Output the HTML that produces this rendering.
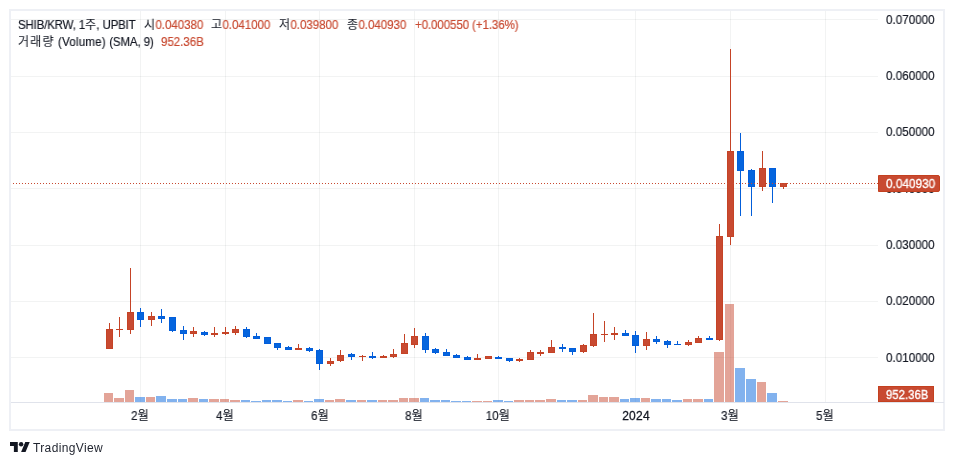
<!DOCTYPE html>
<html lang="ko">
<head>
<meta charset="utf-8">
<title>SHIB/KRW</title>
<style>
html,body{margin:0;padding:0;background:#fff;}
body{width:954px;height:465px;position:relative;overflow:hidden;
  -webkit-font-smoothing:antialiased;
  font-family:"Liberation Sans","Noto Sans CJK KR",sans-serif;color:#131722;}
#frame{position:absolute;left:9px;top:9px;width:932px;height:418px;border:2px solid #eef0f5;box-sizing:content-box;}
#chart{position:absolute;left:0;top:0;width:954px;height:465px;}
#axisline{position:absolute;left:11px;top:402px;width:933px;height:1px;background:#e0e3eb;}
.t{position:absolute;white-space:nowrap;font-size:12px;line-height:14px;transform:scaleX(0.958);transform-origin:0 0;}
.k{font-size:12.5px;line-height:0;font-weight:350;letter-spacing:0.4px;}
.r{color:#c84a31;}
.t,.pl,.tl,.tt,#brand{will-change:transform;}
.t,.pl,.tl{-webkit-text-stroke:0.18px currentColor;}
.pl{position:absolute;left:886.3px;font-size:12px;letter-spacing:0.1px;line-height:14px;white-space:nowrap;transform:scaleX(0.958);transform-origin:0 0;}
.tl{position:absolute;top:409px;width:60px;margin-left:-30px;text-align:center;font-size:12px;line-height:14px;white-space:nowrap;transform:scaleX(0.958);}
#dots{position:absolute;left:13px;top:183px;width:865px;height:1px;
  background-image:repeating-linear-gradient(to right,#c84a31 0,#c84a31 1px,transparent 1px,transparent 3px);}
.tag{position:absolute;background:#c84a31;color:#fff;font-size:12px;line-height:17px;white-space:nowrap;box-sizing:border-box;border:1px solid #c4401f;}
.tt{position:absolute;top:0;left:7.4px;letter-spacing:0.1px;transform:scaleX(0.97);transform-origin:0 0;-webkit-text-stroke:0.33px #fff;}
#logo{position:absolute;left:10px;top:442px;}
#brand{position:absolute;left:33.4px;top:439.6px;font-size:12px;letter-spacing:0.37px;line-height:16px;color:#1e222d;}
</style>
</head>
<body>
<div id="frame"></div>
<svg id="chart" width="954" height="465" viewBox="0 0 954 465" shape-rendering="crispEdges">
<rect x="140" y="11" width="1" height="391" fill="rgba(42,46,57,0.06)"/>
<rect x="225" y="11" width="1" height="391" fill="rgba(42,46,57,0.06)"/>
<rect x="319" y="11" width="1" height="391" fill="rgba(42,46,57,0.06)"/>
<rect x="414" y="11" width="1" height="391" fill="rgba(42,46,57,0.06)"/>
<rect x="498" y="11" width="1" height="391" fill="rgba(42,46,57,0.06)"/>
<rect x="635" y="11" width="1" height="391" fill="rgba(42,46,57,0.06)"/>
<rect x="730" y="11" width="1" height="391" fill="rgba(42,46,57,0.06)"/>
<rect x="825" y="11" width="1" height="391" fill="rgba(42,46,57,0.06)"/>
<rect x="11" y="19" width="867" height="1" fill="rgba(42,46,57,0.06)"/>
<rect x="11" y="76" width="867" height="1" fill="rgba(42,46,57,0.06)"/>
<rect x="11" y="132" width="867" height="1" fill="rgba(42,46,57,0.06)"/>
<rect x="11" y="188" width="867" height="1" fill="rgba(42,46,57,0.06)"/>
<rect x="11" y="245" width="867" height="1" fill="rgba(42,46,57,0.06)"/>
<rect x="11" y="301" width="867" height="1" fill="rgba(42,46,57,0.06)"/>
<rect x="11" y="357" width="867" height="1" fill="rgba(42,46,57,0.06)"/>
<rect x="104" y="393" width="9" height="9" fill="rgba(200,74,49,0.5)"/>
<rect x="114" y="398" width="10" height="4" fill="rgba(200,74,49,0.5)"/>
<rect x="125" y="390" width="9" height="12" fill="rgba(200,74,49,0.5)"/>
<rect x="135" y="397" width="10" height="5" fill="rgba(5,101,222,0.5)"/>
<rect x="146" y="397" width="9" height="5" fill="rgba(200,74,49,0.5)"/>
<rect x="156" y="396" width="10" height="6" fill="rgba(5,101,222,0.5)"/>
<rect x="167" y="399" width="10" height="3" fill="rgba(5,101,222,0.5)"/>
<rect x="178" y="399" width="9" height="3" fill="rgba(5,101,222,0.5)"/>
<rect x="188" y="398" width="10" height="4" fill="rgba(200,74,49,0.5)"/>
<rect x="199" y="399" width="9" height="3" fill="rgba(5,101,222,0.5)"/>
<rect x="209" y="399" width="10" height="3" fill="rgba(200,74,49,0.5)"/>
<rect x="220" y="399" width="9" height="3" fill="rgba(200,74,49,0.5)"/>
<rect x="230" y="400" width="10" height="2" fill="rgba(200,74,49,0.5)"/>
<rect x="241" y="400" width="9" height="2" fill="rgba(5,101,222,0.5)"/>
<rect x="251" y="401" width="10" height="1" fill="rgba(5,101,222,0.5)"/>
<rect x="262" y="400" width="9" height="2" fill="rgba(5,101,222,0.5)"/>
<rect x="272" y="400" width="10" height="2" fill="rgba(5,101,222,0.5)"/>
<rect x="283" y="401" width="9" height="1" fill="rgba(5,101,222,0.5)"/>
<rect x="293" y="400" width="10" height="2" fill="rgba(200,74,49,0.5)"/>
<rect x="304" y="401" width="9" height="1" fill="rgba(5,101,222,0.5)"/>
<rect x="314" y="399" width="10" height="3" fill="rgba(5,101,222,0.5)"/>
<rect x="325" y="400" width="9" height="2" fill="rgba(200,74,49,0.5)"/>
<rect x="335" y="399" width="10" height="3" fill="rgba(200,74,49,0.5)"/>
<rect x="346" y="400" width="10" height="2" fill="rgba(5,101,222,0.5)"/>
<rect x="357" y="400" width="9" height="2" fill="rgba(200,74,49,0.5)"/>
<rect x="367" y="400" width="10" height="2" fill="rgba(5,101,222,0.5)"/>
<rect x="378" y="400" width="9" height="2" fill="rgba(200,74,49,0.5)"/>
<rect x="388" y="400" width="10" height="2" fill="rgba(200,74,49,0.5)"/>
<rect x="399" y="398" width="9" height="4" fill="rgba(200,74,49,0.5)"/>
<rect x="409" y="398" width="10" height="4" fill="rgba(200,74,49,0.5)"/>
<rect x="420" y="398" width="9" height="4" fill="rgba(5,101,222,0.5)"/>
<rect x="430" y="400" width="10" height="2" fill="rgba(5,101,222,0.5)"/>
<rect x="441" y="400" width="9" height="2" fill="rgba(5,101,222,0.5)"/>
<rect x="451" y="401" width="10" height="1" fill="rgba(5,101,222,0.5)"/>
<rect x="462" y="401" width="9" height="1" fill="rgba(5,101,222,0.5)"/>
<rect x="472" y="401" width="10" height="1" fill="rgba(200,74,49,0.5)"/>
<rect x="483" y="401" width="9" height="1" fill="rgba(200,74,49,0.5)"/>
<rect x="493" y="400" width="10" height="2" fill="rgba(5,101,222,0.5)"/>
<rect x="504" y="401" width="9" height="1" fill="rgba(5,101,222,0.5)"/>
<rect x="514" y="400" width="10" height="2" fill="rgba(200,74,49,0.5)"/>
<rect x="525" y="400" width="9" height="2" fill="rgba(200,74,49,0.5)"/>
<rect x="535" y="400" width="10" height="2" fill="rgba(200,74,49,0.5)"/>
<rect x="546" y="399" width="10" height="3" fill="rgba(200,74,49,0.5)"/>
<rect x="557" y="400" width="9" height="2" fill="rgba(5,101,222,0.5)"/>
<rect x="567" y="400" width="10" height="2" fill="rgba(5,101,222,0.5)"/>
<rect x="578" y="400" width="9" height="2" fill="rgba(200,74,49,0.5)"/>
<rect x="588" y="395" width="10" height="7" fill="rgba(200,74,49,0.5)"/>
<rect x="599" y="397" width="9" height="5" fill="rgba(200,74,49,0.5)"/>
<rect x="609" y="397" width="10" height="5" fill="rgba(200,74,49,0.5)"/>
<rect x="620" y="399" width="9" height="3" fill="rgba(5,101,222,0.5)"/>
<rect x="630" y="398" width="10" height="4" fill="rgba(5,101,222,0.5)"/>
<rect x="641" y="398" width="9" height="4" fill="rgba(200,74,49,0.5)"/>
<rect x="651" y="399" width="10" height="3" fill="rgba(5,101,222,0.5)"/>
<rect x="662" y="399" width="9" height="3" fill="rgba(5,101,222,0.5)"/>
<rect x="672" y="400" width="10" height="2" fill="rgba(5,101,222,0.5)"/>
<rect x="683" y="399" width="9" height="3" fill="rgba(200,74,49,0.5)"/>
<rect x="693" y="399" width="10" height="3" fill="rgba(200,74,49,0.5)"/>
<rect x="704" y="399" width="9" height="3" fill="rgba(5,101,222,0.5)"/>
<rect x="714" y="352" width="10" height="50" fill="rgba(200,74,49,0.5)"/>
<rect x="725" y="304" width="9" height="98" fill="rgba(200,74,49,0.5)"/>
<rect x="735" y="368" width="10" height="34" fill="rgba(5,101,222,0.5)"/>
<rect x="746" y="379" width="10" height="23" fill="rgba(5,101,222,0.5)"/>
<rect x="757" y="382" width="9" height="20" fill="rgba(200,74,49,0.5)"/>
<rect x="767" y="393" width="10" height="9" fill="rgba(5,101,222,0.5)"/>
<rect x="778" y="401" width="10" height="1" fill="rgba(200,74,49,0.5)"/>
<rect x="109" y="323" width="1" height="26" fill="#c54326"/>
<rect x="106" y="329" width="7" height="20" fill="#c54326"/>
<rect x="107" y="330" width="5" height="18" fill="#c84a31"/>
<rect x="119" y="317" width="1" height="20" fill="#c54326"/>
<rect x="116" y="329" width="7" height="1" fill="#c54326"/>
<rect x="130" y="268" width="1" height="66" fill="#c54326"/>
<rect x="127" y="312" width="7" height="18" fill="#c54326"/>
<rect x="128" y="313" width="5" height="16" fill="#c84a31"/>
<rect x="140" y="308" width="1" height="19" fill="#035eda"/>
<rect x="137" y="312" width="7" height="8" fill="#035eda"/>
<rect x="138" y="313" width="5" height="6" fill="#0565de"/>
<rect x="151" y="312" width="1" height="14" fill="#c54326"/>
<rect x="148" y="316" width="7" height="4" fill="#c54326"/>
<rect x="149" y="317" width="5" height="2" fill="#c84a31"/>
<rect x="161" y="309" width="1" height="14" fill="#035eda"/>
<rect x="158" y="316" width="7" height="3" fill="#035eda"/>
<rect x="159" y="317" width="5" height="1" fill="#0565de"/>
<rect x="172" y="317" width="1" height="15" fill="#035eda"/>
<rect x="169" y="317" width="7" height="14" fill="#035eda"/>
<rect x="170" y="318" width="5" height="12" fill="#0565de"/>
<rect x="183" y="326" width="1" height="14" fill="#035eda"/>
<rect x="180" y="330" width="7" height="4" fill="#035eda"/>
<rect x="181" y="331" width="5" height="2" fill="#0565de"/>
<rect x="193" y="327" width="1" height="10" fill="#c54326"/>
<rect x="190" y="331" width="7" height="3" fill="#c54326"/>
<rect x="191" y="332" width="5" height="1" fill="#c84a31"/>
<rect x="204" y="331" width="1" height="5" fill="#035eda"/>
<rect x="201" y="332" width="7" height="3" fill="#035eda"/>
<rect x="202" y="333" width="5" height="1" fill="#0565de"/>
<rect x="214" y="327" width="1" height="10" fill="#c54326"/>
<rect x="211" y="333" width="7" height="2" fill="#c54326"/>
<rect x="225" y="327" width="1" height="8" fill="#c54326"/>
<rect x="222" y="332" width="7" height="2" fill="#c54326"/>
<rect x="235" y="326" width="1" height="9" fill="#c54326"/>
<rect x="232" y="329" width="7" height="4" fill="#c54326"/>
<rect x="233" y="330" width="5" height="2" fill="#c84a31"/>
<rect x="246" y="327" width="1" height="11" fill="#035eda"/>
<rect x="243" y="329" width="7" height="8" fill="#035eda"/>
<rect x="244" y="330" width="5" height="6" fill="#0565de"/>
<rect x="256" y="333" width="1" height="6" fill="#035eda"/>
<rect x="253" y="336" width="7" height="3" fill="#035eda"/>
<rect x="254" y="337" width="5" height="1" fill="#0565de"/>
<rect x="267" y="337" width="1" height="7" fill="#035eda"/>
<rect x="264" y="337" width="7" height="7" fill="#035eda"/>
<rect x="265" y="338" width="5" height="5" fill="#0565de"/>
<rect x="277" y="343" width="1" height="7" fill="#035eda"/>
<rect x="274" y="343" width="7" height="5" fill="#035eda"/>
<rect x="275" y="344" width="5" height="3" fill="#0565de"/>
<rect x="288" y="346" width="1" height="4" fill="#035eda"/>
<rect x="285" y="347" width="7" height="3" fill="#035eda"/>
<rect x="286" y="348" width="5" height="1" fill="#0565de"/>
<rect x="298" y="344" width="1" height="6" fill="#c54326"/>
<rect x="295" y="348" width="7" height="2" fill="#c54326"/>
<rect x="309" y="347" width="1" height="5" fill="#035eda"/>
<rect x="306" y="348" width="7" height="3" fill="#035eda"/>
<rect x="307" y="349" width="5" height="1" fill="#0565de"/>
<rect x="319" y="349" width="1" height="21" fill="#035eda"/>
<rect x="316" y="350" width="7" height="14" fill="#035eda"/>
<rect x="317" y="351" width="5" height="12" fill="#0565de"/>
<rect x="330" y="358" width="1" height="8" fill="#c54326"/>
<rect x="327" y="361" width="7" height="3" fill="#c54326"/>
<rect x="328" y="362" width="5" height="1" fill="#c84a31"/>
<rect x="340" y="350" width="1" height="12" fill="#c54326"/>
<rect x="337" y="355" width="7" height="6" fill="#c54326"/>
<rect x="338" y="356" width="5" height="4" fill="#c84a31"/>
<rect x="351" y="353" width="1" height="7" fill="#035eda"/>
<rect x="348" y="354" width="7" height="3" fill="#035eda"/>
<rect x="349" y="355" width="5" height="1" fill="#0565de"/>
<rect x="362" y="355" width="1" height="6" fill="#c54326"/>
<rect x="359" y="356" width="7" height="1" fill="#c54326"/>
<rect x="372" y="352" width="1" height="7" fill="#035eda"/>
<rect x="369" y="356" width="7" height="2" fill="#035eda"/>
<rect x="383" y="355" width="1" height="3" fill="#c54326"/>
<rect x="380" y="356" width="7" height="2" fill="#c54326"/>
<rect x="393" y="349" width="1" height="9" fill="#c54326"/>
<rect x="390" y="354" width="7" height="3" fill="#c54326"/>
<rect x="391" y="355" width="5" height="1" fill="#c84a31"/>
<rect x="404" y="334" width="1" height="20" fill="#c54326"/>
<rect x="401" y="343" width="7" height="11" fill="#c54326"/>
<rect x="402" y="344" width="5" height="9" fill="#c84a31"/>
<rect x="414" y="328" width="1" height="20" fill="#c54326"/>
<rect x="411" y="336" width="7" height="9" fill="#c54326"/>
<rect x="412" y="337" width="5" height="7" fill="#c84a31"/>
<rect x="425" y="333" width="1" height="20" fill="#035eda"/>
<rect x="422" y="336" width="7" height="14" fill="#035eda"/>
<rect x="423" y="337" width="5" height="12" fill="#0565de"/>
<rect x="435" y="348" width="1" height="6" fill="#035eda"/>
<rect x="432" y="349" width="7" height="4" fill="#035eda"/>
<rect x="433" y="350" width="5" height="2" fill="#0565de"/>
<rect x="446" y="349" width="1" height="7" fill="#035eda"/>
<rect x="443" y="352" width="7" height="4" fill="#035eda"/>
<rect x="444" y="353" width="5" height="2" fill="#0565de"/>
<rect x="456" y="354" width="1" height="4" fill="#035eda"/>
<rect x="453" y="355" width="7" height="3" fill="#035eda"/>
<rect x="454" y="356" width="5" height="1" fill="#0565de"/>
<rect x="467" y="356" width="1" height="4" fill="#035eda"/>
<rect x="464" y="357" width="7" height="3" fill="#035eda"/>
<rect x="465" y="358" width="5" height="1" fill="#0565de"/>
<rect x="477" y="354" width="1" height="6" fill="#c54326"/>
<rect x="474" y="358" width="7" height="2" fill="#c54326"/>
<rect x="488" y="356" width="1" height="3" fill="#c54326"/>
<rect x="485" y="356" width="7" height="3" fill="#c54326"/>
<rect x="486" y="357" width="5" height="1" fill="#c84a31"/>
<rect x="498" y="356" width="1" height="3" fill="#035eda"/>
<rect x="495" y="357" width="7" height="2" fill="#035eda"/>
<rect x="509" y="358" width="1" height="4" fill="#035eda"/>
<rect x="506" y="358" width="7" height="3" fill="#035eda"/>
<rect x="507" y="359" width="5" height="1" fill="#0565de"/>
<rect x="519" y="358" width="1" height="4" fill="#c54326"/>
<rect x="516" y="359" width="7" height="2" fill="#c54326"/>
<rect x="530" y="350" width="1" height="10" fill="#c54326"/>
<rect x="527" y="352" width="7" height="8" fill="#c54326"/>
<rect x="528" y="353" width="5" height="6" fill="#c84a31"/>
<rect x="540" y="350" width="1" height="6" fill="#c54326"/>
<rect x="537" y="352" width="7" height="2" fill="#c54326"/>
<rect x="551" y="340" width="1" height="13" fill="#c54326"/>
<rect x="548" y="347" width="7" height="6" fill="#c54326"/>
<rect x="549" y="348" width="5" height="4" fill="#c84a31"/>
<rect x="562" y="344" width="1" height="8" fill="#035eda"/>
<rect x="559" y="347" width="7" height="2" fill="#035eda"/>
<rect x="572" y="348" width="1" height="7" fill="#035eda"/>
<rect x="569" y="348" width="7" height="4" fill="#035eda"/>
<rect x="570" y="349" width="5" height="2" fill="#0565de"/>
<rect x="583" y="344" width="1" height="9" fill="#c54326"/>
<rect x="580" y="345" width="7" height="7" fill="#c54326"/>
<rect x="581" y="346" width="5" height="5" fill="#c84a31"/>
<rect x="593" y="313" width="1" height="34" fill="#c54326"/>
<rect x="590" y="334" width="7" height="12" fill="#c54326"/>
<rect x="591" y="335" width="5" height="10" fill="#c84a31"/>
<rect x="604" y="321" width="1" height="21" fill="#c54326"/>
<rect x="601" y="334" width="7" height="1" fill="#c54326"/>
<rect x="614" y="327" width="1" height="13" fill="#c54326"/>
<rect x="611" y="333" width="7" height="2" fill="#c54326"/>
<rect x="625" y="330" width="1" height="6" fill="#035eda"/>
<rect x="622" y="333" width="7" height="3" fill="#035eda"/>
<rect x="623" y="334" width="5" height="1" fill="#0565de"/>
<rect x="635" y="331" width="1" height="22" fill="#035eda"/>
<rect x="632" y="335" width="7" height="11" fill="#035eda"/>
<rect x="633" y="336" width="5" height="9" fill="#0565de"/>
<rect x="646" y="332" width="1" height="18" fill="#c54326"/>
<rect x="643" y="339" width="7" height="7" fill="#c54326"/>
<rect x="644" y="340" width="5" height="5" fill="#c84a31"/>
<rect x="656" y="336" width="1" height="8" fill="#035eda"/>
<rect x="653" y="339" width="7" height="3" fill="#035eda"/>
<rect x="654" y="340" width="5" height="1" fill="#0565de"/>
<rect x="667" y="340" width="1" height="8" fill="#035eda"/>
<rect x="664" y="341" width="7" height="4" fill="#035eda"/>
<rect x="665" y="342" width="5" height="2" fill="#0565de"/>
<rect x="677" y="341" width="1" height="4" fill="#035eda"/>
<rect x="674" y="344" width="7" height="1" fill="#035eda"/>
<rect x="688" y="340" width="1" height="6" fill="#c54326"/>
<rect x="685" y="342" width="7" height="3" fill="#c54326"/>
<rect x="686" y="343" width="5" height="1" fill="#c84a31"/>
<rect x="698" y="336" width="1" height="7" fill="#c54326"/>
<rect x="695" y="338" width="7" height="5" fill="#c54326"/>
<rect x="696" y="339" width="5" height="3" fill="#c84a31"/>
<rect x="709" y="336" width="1" height="4" fill="#035eda"/>
<rect x="706" y="338" width="7" height="2" fill="#035eda"/>
<rect x="719" y="224" width="1" height="117" fill="#c54326"/>
<rect x="716" y="236" width="7" height="104" fill="#c54326"/>
<rect x="717" y="237" width="5" height="102" fill="#c84a31"/>
<rect x="730" y="49" width="1" height="196" fill="#c54326"/>
<rect x="727" y="151" width="7" height="86" fill="#c54326"/>
<rect x="728" y="152" width="5" height="84" fill="#c84a31"/>
<rect x="740" y="133" width="1" height="83" fill="#035eda"/>
<rect x="737" y="151" width="7" height="20" fill="#035eda"/>
<rect x="738" y="152" width="5" height="18" fill="#0565de"/>
<rect x="751" y="169" width="1" height="47" fill="#035eda"/>
<rect x="748" y="170" width="7" height="17" fill="#035eda"/>
<rect x="749" y="171" width="5" height="15" fill="#0565de"/>
<rect x="762" y="151" width="1" height="40" fill="#c54326"/>
<rect x="759" y="168" width="7" height="19" fill="#c54326"/>
<rect x="760" y="169" width="5" height="17" fill="#c84a31"/>
<rect x="772" y="168" width="1" height="35" fill="#035eda"/>
<rect x="769" y="168" width="7" height="19" fill="#035eda"/>
<rect x="770" y="169" width="5" height="17" fill="#0565de"/>
<rect x="783" y="183" width="1" height="6" fill="#c54326"/>
<rect x="780" y="183" width="7" height="4" fill="#c54326"/>
<rect x="781" y="184" width="5" height="2" fill="#c84a31"/>
</svg>
<div id="axisline"></div>
<div id="dots"></div>

<div class="t" style="left:17.6px;top:18px;letter-spacing:-0.17px;">SHIB/KRW, 1<span class="k">주</span>, UPBIT</div>
<div class="t" style="left:144px;top:18px;"><span class="k">시</span><span class="r">0.040380</span></div>
<div class="t" style="left:211px;top:18px;"><span class="k">고</span><span class="r">0.041000</span></div>
<div class="t" style="left:279px;top:18px;"><span class="k">저</span><span class="r">0.039800</span></div>
<div class="t" style="left:347px;top:18px;"><span class="k">종</span><span class="r">0.040930</span></div>
<div class="t r" style="left:415px;top:18px;letter-spacing:-0.08px;">+0.000550 (+1.36%)</div>
<div class="t" style="left:18px;top:35px;"><span class="k" style="letter-spacing:1.3px;">거래량</span> <span style="letter-spacing:0.25px;">(Volume)</span> <span style="letter-spacing:-0.1px;">(SMA, 9)</span></div>
<div class="t r" style="left:161px;top:35px;">952.36B</div>

<div class="pl" style="top:12.9px;">0.070000</div>
<div class="pl" style="top:68.9px;">0.060000</div>
<div class="pl" style="top:125.4px;">0.050000</div>
<div class="pl" style="top:182.4px;">0.040000</div>
<div class="pl" style="top:238.3px;">0.030000</div>
<div class="pl" style="top:293.7px;">0.020000</div>
<div class="pl" style="top:351.2px;">0.010000</div>

<div class="tag" style="left:878px;top:175px;width:62px;height:17px;border-radius:0 2px 2px 0;"><span class="tt">0.040930</span></div>
<div class="tag" style="left:878px;top:386px;width:56px;height:16px;line-height:16px;"><span class="tt" style="left:7.4px;top:-0.4px;transform:scaleX(0.935);">952.36B</span></div>

<div class="tl" style="left:140.2px;">2<span class="k">월</span></div>
<div class="tl" style="left:225px;">4<span class="k">월</span></div>
<div class="tl" style="left:320px;">6<span class="k">월</span></div>
<div class="tl" style="left:414px;">8<span class="k">월</span></div>
<div class="tl" style="left:498px;">10<span class="k">월</span></div>
<div class="tl" style="left:636px;transform:none;letter-spacing:0.25px;-webkit-text-stroke:0.28px #131722;">2024</div>
<div class="tl" style="left:730px;">3<span class="k">월</span></div>
<div class="tl" style="left:825px;">5<span class="k">월</span></div>

<svg id="logo" width="20" height="10" viewBox="0 0 36 18" fill="#131722">
<path d="M14 18H7V7H0V0h14v18z"/><circle cx="20" cy="4" r="4"/><path d="M28 18h-8l7.5-18h8L28 18z"/>
</svg>
<div id="brand">TradingView</div>
</body>
</html>
